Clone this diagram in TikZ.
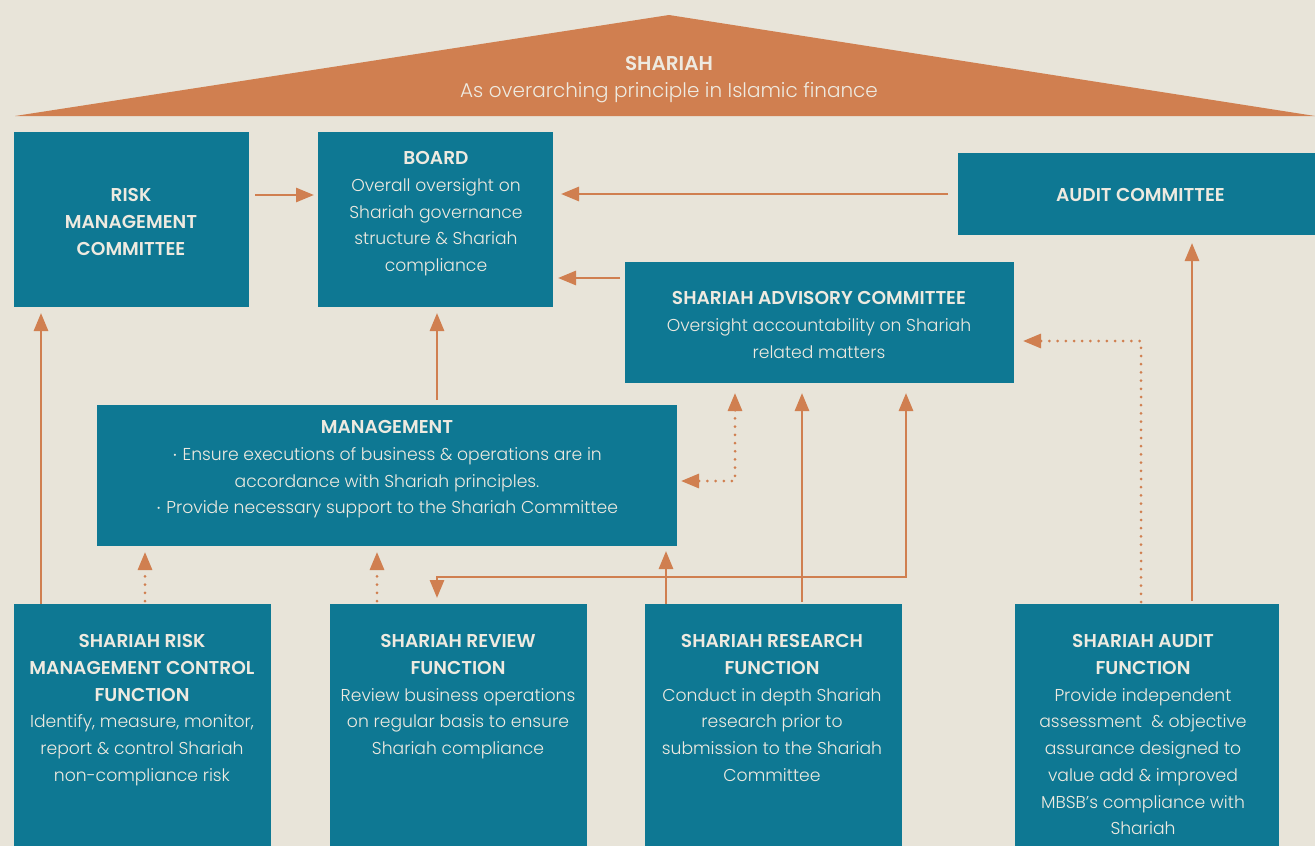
\documentclass[tikz,border=0pt]{standalone}
\usepackage{fontspec}
\setmainfont{Poppins}[UprightFont=* Light, BoldFont=* SemiBold]
\usetikzlibrary{arrows.meta}
\definecolor{bg}{HTML}{E8E4D9}
\definecolor{tealbox}{HTML}{0E7893}
\definecolor{orng}{HTML}{D07F50}
\definecolor{cream}{HTML}{EEEAE0}
\newcommand\ttl[1]{{\fontsize{18.6}{26.7}\selectfont\bfseries #1}}
\newcommand\bdot{{\fontsize{22}{26.7}\selectfont$\cdot$}}
\begin{document}
\begin{tikzpicture}[x=1pt,y=-1pt,
  box/.style={fill=tealbox, draw=none, inner sep=0pt, outer sep=0pt},
  txt/.style={text=cream, align=center, inner sep=0pt, anchor=north, font=\fontsize{17.2}{26.7}\selectfont},
  arr/.style={draw=orng, line width=2.8pt, -{Triangle[length=18pt,width=14pt]}},
  arrb/.style={draw=orng, line width=2.8pt, {Triangle[length=18pt,width=14pt]}-{Triangle[length=18pt,width=14pt]}},
  dotl/.style={draw=orng, line width=3pt, line cap=round, dash pattern=on 0pt off 8.2pt},
  dotarr/.style={dotl, -{Triangle[length=18pt,width=14pt]}},
  dotarrb/.style={dotl, {Triangle[length=18pt,width=14pt]}-{Triangle[length=18pt,width=14pt]}}
]
\useasboundingbox (0,0) rectangle (1315,846);
\fill[bg] (0,0) rectangle (1315,846);
% roof
\fill[orng] (15,116) -- (669,15) -- (1315,116) -- cycle;
\node[txt, font=\fontsize{20}{27}\selectfont] (roof) at (669,56) {\textbf{SHARIAH}\\As overarching principle in Islamic finance};

% boxes
\node[box, minimum width=235pt, minimum height=175pt] (rmc) at (131.5,219.5) {};
\node[box, minimum width=235pt, minimum height=175pt] (board) at (435.5,219.5) {};
\node[box, minimum width=357pt, minimum height=82pt] (ac) at (1136.5,194) {};
\node[box, minimum width=389pt, minimum height=121pt] (sac) at (819.5,322.5) {};
\node[box, minimum width=580pt, minimum height=141pt] (mgmt) at (387,475.5) {};
\node[box, minimum width=257pt, minimum height=242pt] (srm) at (142.5,725) {};
\node[box, minimum width=257pt, minimum height=242pt] (rev) at (458.5,725) {};
\node[box, minimum width=257pt, minimum height=242pt] (res) at (773.5,725) {};
\node[box, minimum width=264pt, minimum height=242pt] (af) at (1147,725) {};

% texts
\node[txt] (rmc-t) at (131,188.5) {\ttl{RISK}\\\ttl{MANAGEMENT}\\\ttl{COMMITTEE}};
\node[txt] (board-t) at (436,151.5) {\ttl{BOARD}\\Overall oversight on\\Shariah governance\\structure \& Shariah\\compliance};
\node[txt] (ac-t) at (1140.5,188.5) {\ttl{AUDIT COMMITTEE}};
\node[txt] (sac-t) at (819,291.5) {\ttl{SHARIAH ADVISORY COMMITTEE}\\Oversight accountability on Shariah\\related matters};
\node[txt] (mgmt-t) at (387,420.5) {\ttl{MANAGEMENT}\\\bdot{} Ensure executions of business \& operations are in\\accordance with Shariah principles.\\\bdot{} Provide necessary support to the Shariah Committee};
\node[txt] (srm-t) at (142,634.5) {\ttl{SHARIAH RISK}\\\ttl{MANAGEMENT CONTROL}\\\ttl{FUNCTION}\\Identify, measure, monitor,\\report \& control Shariah\\non-compliance risk};
\node[txt] (rev-t) at (458,634.5) {\ttl{SHARIAH REVIEW}\\\ttl{FUNCTION}\\Review business operations\\on regular basis to ensure\\Shariah compliance};
\node[txt] (res-t) at (772,634.5) {\ttl{SHARIAH RESEARCH}\\\ttl{FUNCTION}\\Conduct in depth Shariah\\research prior to\\submission to the Shariah\\Committee};
\node[txt] (af-t) at (1143,634.5) {\ttl{SHARIAH AUDIT}\\\ttl{FUNCTION}\\Provide independent\\assessment\ \ \& objective\\assurance designed to\\value add \& improved\\MBSB's compliance with\\Shariah};

% connectors
\draw[arr, shorten <=6pt, shorten >=4pt] (rmc.east |- 0,195) -- (board.west |- 0,195);
\draw[arr, shorten <=10pt, shorten >=8pt] (ac.west) -- (board.east |- ac.west);
\draw[arr, shorten <=5pt, shorten >=5pt] (sac.west |- 0,278) -- (board.east |- 0,278);
\draw[arr, shorten <=5pt, shorten >=6pt] (437,0 |- mgmt.north) -- (437,0 |- board.south);
\draw[arr, shorten >=6pt] (41,0 |- srm.north) -- (41,0 |- rmc.south);
\draw[dotarr, shorten <=3pt, shorten >=6pt] (145,0 |- srm.north) -- (145,0 |- mgmt.south);
\draw[dotarr, shorten <=3pt, shorten >=6pt] (377,0 |- rev.north) -- (377,0 |- mgmt.south);
\draw[arr, shorten >=5pt] (666,0 |- res.north) -- (666,0 |- mgmt.south);
\draw[arr, shorten <=2pt, shorten >=10pt] (802,0 |- res.north) -- (802,0 |- sac.south);
\draw[arrb, shorten <=6pt, shorten >=10pt] (437,0 |- rev.north) -- (437,577) -- (906,577) -- (906,0 |- sac.south);
\draw[dotarrb, shorten <=10pt, shorten >=4pt] (735,0 |- sac.south) -- (735,481) -- (mgmt.east |- 0,481);
\draw[dotarr, shorten <=2pt, shorten >=9pt] (1141,0 |- af.north) -- (1141,341) -- (sac.east |- 0,341);
\draw[arr, shorten <=3pt, shorten >=8pt] (1192,0 |- af.north) -- (1192,0 |- ac.south);
\end{tikzpicture}
\end{document}
